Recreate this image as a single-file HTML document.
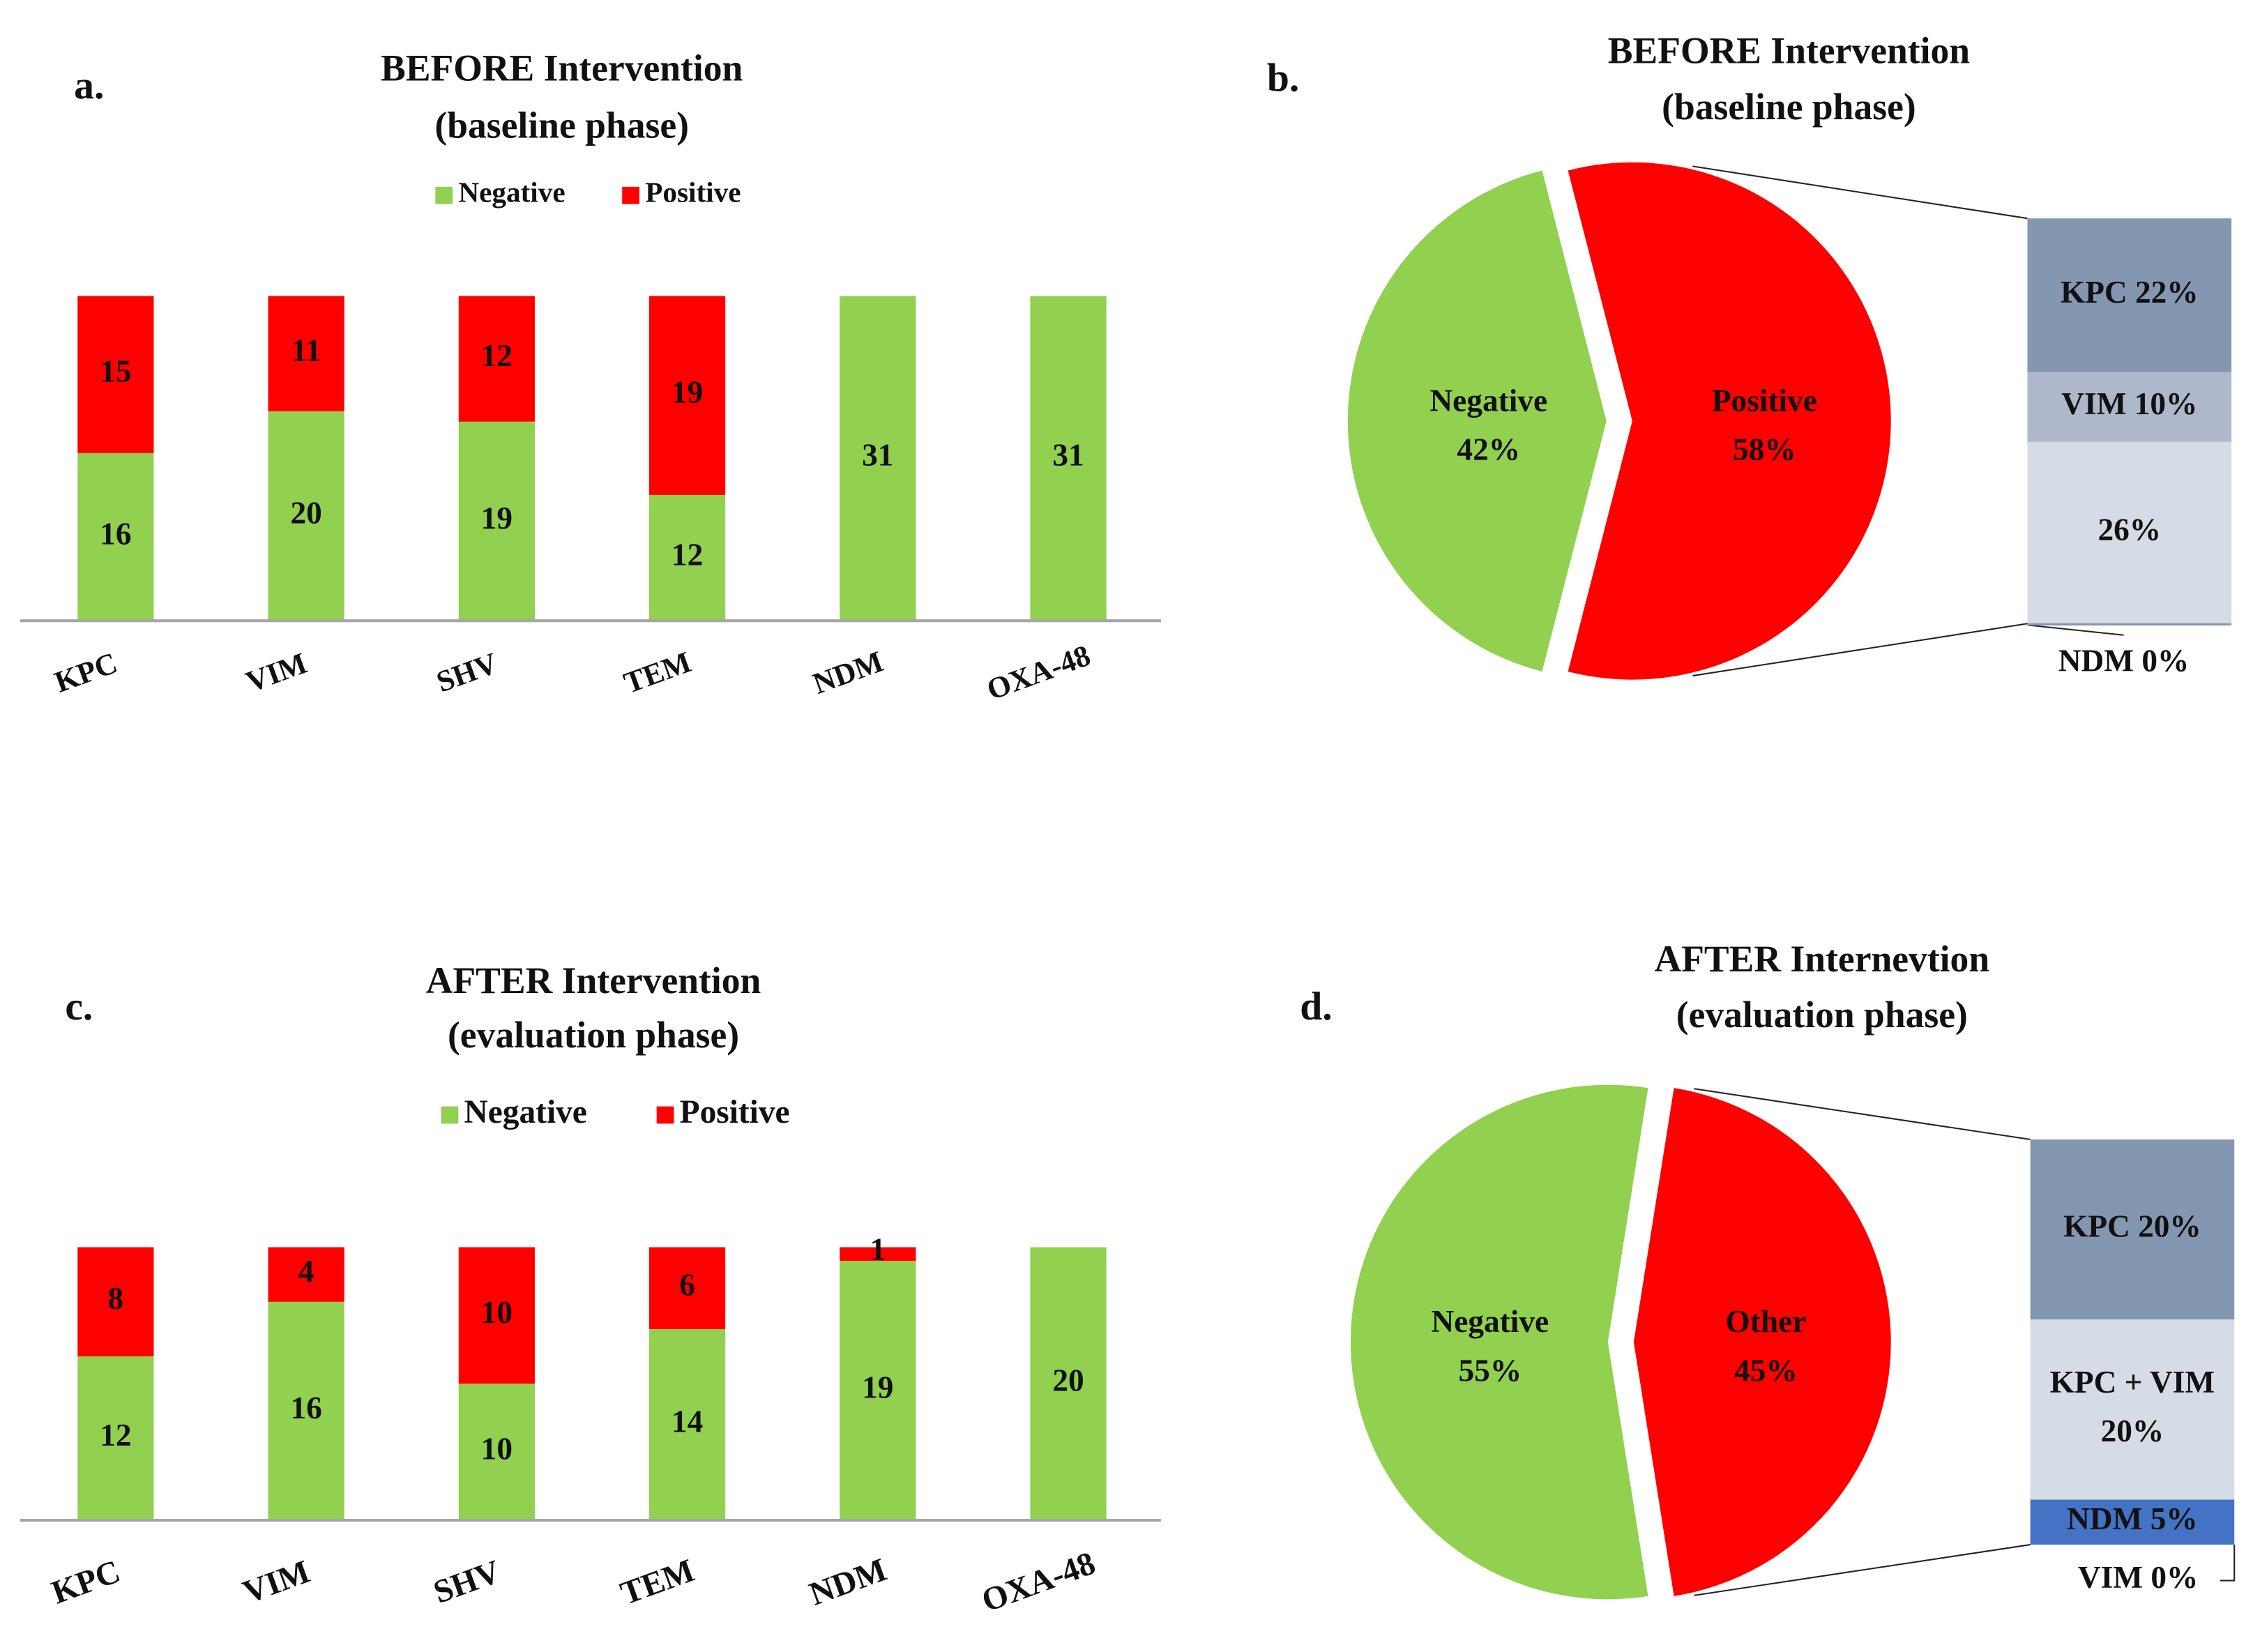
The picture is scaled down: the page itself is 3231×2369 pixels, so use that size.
<!DOCTYPE html>
<html><head><meta charset="utf-8"><style>
html,body{margin:0;padding:0;background:#fff}
svg{display:block}
text{font-family:"Liberation Serif",serif;font-weight:bold;fill:#111}
</style></head><body>
<svg id="s" width="3231" height="2369" viewBox="0 0 1568 1149.7" preserveAspectRatio="none" xmlns="http://www.w3.org/2000/svg">
<rect width="1568" height="1150" fill="#fff"/>
</svg>
<script>
const categories=["KPC","VIM","SHV","TEM","NDM","OXA-48"];
const negBefore=[16,20,19,12,31,31];
const posBefore=[15,11,12,19,0,0];
const negAfter=[12,16,10,14,19,20];
const posAfter=[8,4,10,6,1,0];
const pieBeforeLabels=["Negative","Positive"];
const pieBeforeValues=[42,58];
const pieAfterLabels=["Negative","Other"];
const pieAfterValues=[55,45];
const boxBeforeLabels=["KPC 22%","VIM 10%","26%"];
const boxBeforeValues=[22,10,26];
const boxAfterLabels=["KPC 20%","KPC + VIM\n20%","NDM 5%"];
const boxAfterValues=[20,20,5];

const NS="http://www.w3.org/2000/svg";
const svg=document.getElementById('s');
function el(tag,attrs,parent){const e=document.createElementNS(NS,tag);for(const k in attrs)e.setAttribute(k,attrs[k]);(parent||svg).appendChild(e);return e;}
function txt(str,x,y,size,parent,extra){const t=el('text',Object.assign({x:x,y:y,'font-size':size,'text-anchor':'middle','dominant-baseline':'middle'},extra||{}),parent);t.textContent=str;return t;}

function barPanel(name,neg,pos,top,base,letter,lx,ly,t1,t2,tx,ty1,ty2,legY,legSize,catY,catSize){
  const g=el('g',{});
  
  
  const L=txt(letter,lx,ly,28,g);
  const a=txt(t1,tx,ty1,26,g);
  const b=txt(t2,tx,ty2,26,g);
  const lg=el('g',{},g);
  const lx0=tx-(legSize>21?106:88);
  el('rect',{x:lx0,y:legY-6,width:12,height:12,fill:'#92d050'},lg);
  txt('Negative',lx0+16,legY,legSize,lg,{'text-anchor':'start'});
  const px=lx0+(legSize>21?150:130);
  el('rect',{x:px,y:legY-6,width:12,height:12,fill:'#ff0000'},lg);
  txt('Positive',px+16,legY,legSize,lg,{'text-anchor':'start'});
  let maxT=0;for(let i=0;i<neg.length;i++)maxT=Math.max(maxT,neg[i]+pos[i]);
  const ys=v=>(base-top)*v/maxT;
  const xs=i=>54+i*132.6;
  for(let i=0;i<neg.length;i++){
    const x=xs(i),w=53;
    const hN=ys(neg[i]),hP=ys(pos[i]);
    const rn=el('rect',{x:x,y:base-hN,width:w,height:hN,fill:'#92d050'},g);
    
    
    if(neg[i]>0)txt(String(neg[i]),x+w/2,base-hN/2,22,g);
    if(pos[i]>0){
      const rp=el('rect',{x:x,y:base-hN-hP,width:w,height:hP,fill:'#ff0000'},g);
      
      
      txt(String(pos[i]),x+w/2,base-hN-hP/2+(hP<15?-1:0),22,g);
    }
    const cx=x+w/2-20;
    const c=txt(categories[i],cx,catY,catSize,g,{transform:'rotate(-20 '+cx+' '+catY+')'});
    
  }
  const ax=el('line',{x1:14,y1:base,x2:808,y2:base,stroke:'#a6a6a6','stroke-width':2},g);
  
}
barPanel('bar-chart-before',negBefore,posBefore,206,432,'a.',62,62,'BEFORE Intervention','(baseline phase)',391,50,90,136,20,470,21);
barPanel('bar-chart-after',negAfter,posAfter,868,1058,'c.',55,703,'AFTER Intervention','(evaluation phase)',413,685,723,776,23,1103,23);

function piePanel(name,vals,labels,cx,cy,r,boxX,boxTop,boxBot,bVals,bLabels,bColors,letter,lx,ly,t1,t2,tx,ty1,ty2){
  const g=el('g',{});
  
  
  const L=txt(letter,lx,ly,28,g);
  const a=txt(t1,tx,ty1,26,g);
  const b=txt(t2,tx,ty2,26,g);
  const tot=vals[0]+vals[1];
  const half=Math.PI*vals[0]/tot;
  const a1=Math.PI-half,a2=Math.PI+half;
  const P=(ang,ox)=>[cx+ox+r*Math.cos(ang),cy-r*Math.sin(ang)];
  let p1=P(a1,0),p2=P(a2,0);
  const big0=vals[0]/tot>0.5?1:0;
  const gs=el('path',{d:`M${cx},${cy} L${p1[0]},${p1[1]} A${r},${r} 0 ${big0} 0 ${p2[0]},${p2[1]} Z`,fill:'#92d050'},g);
  
  const off=18;
  let q1=P(a1,off),q2=P(a2,off);
  const big1=vals[1]/tot>0.5?1:0;
  const rs=el('path',{d:`M${cx+off},${cy} L${q1[0]},${q1[1]} A${r},${r} 0 ${big1} 1 ${q2[0]},${q2[1]} Z`,fill:'#ff0000'},g);
  
  txt(labels[0],cx-82,cy-12,22,g);txt(vals[0]+'%',cx-82,cy+22,22,g);
  txt(labels[1],cx+110,cy-12,22,g,{fill:'#7a0000'});txt(vals[1]+'%',cx+110,cy+22,22,g,{fill:'#7a0000'});
  el('line',{x1:cx+off+42,y1:cy-r*0.985,x2:boxX,y2:boxTop,stroke:'#222','stroke-width':1},g);
  el('line',{x1:cx+off+42,y1:cy+r*0.985,x2:boxX,y2:boxBot,stroke:'#222','stroke-width':1},g);
  let bt=0;bVals.forEach(v=>bt+=v);
  let y=boxTop;const H=boxBot-boxTop,W=142;
  for(let i=0;i<bVals.length;i++){
    const h=H*bVals[i]/bt;
    const rr=el('rect',{x:boxX,y:y,width:W,height:h,fill:bColors[i]},g);
    
    const parts=bLabels[i].split('\n');
    parts.forEach((p,j)=>txt(p,boxX+W/2,y+h/2+(j-(parts.length-1)/2)*34,22,g));
    y+=h;
  }
  return g;
}
const gb=piePanel('pie-chart-before',pieBeforeValues,pieBeforeLabels,1118,293,180,1411,152,434,boxBeforeValues,boxBeforeLabels,['#8497b0','#adb9ca','#d6dce5'],'b.',893,57,'BEFORE Intervention','(baseline phase)',1245,38,77);
el('line',{x1:1411,y1:435,x2:1478,y2:442,stroke:'#222','stroke-width':1},gb);
el('line',{x1:1411,y1:434.5,x2:1553,y2:434.5,stroke:'#8497b0','stroke-width':1.5},gb);
txt('NDM 0%',1478,462,22,gb);
const gd=piePanel('pie-chart-after',pieAfterValues,pieAfterLabels,1119,934,179,1413,793,1075,boxAfterValues,boxAfterLabels,['#8497b0','#d6dce5','#4472c4'],'d.',916,703,'AFTER Internevtion','(evaluation phase)',1268,670,709);
el('polyline',{points:'1555,1075 1555,1100 1545,1100',fill:'none',stroke:'#222','stroke-width':1},gd);
txt('VIM 0%',1488,1100,22,gd);
</script>
</body></html>
